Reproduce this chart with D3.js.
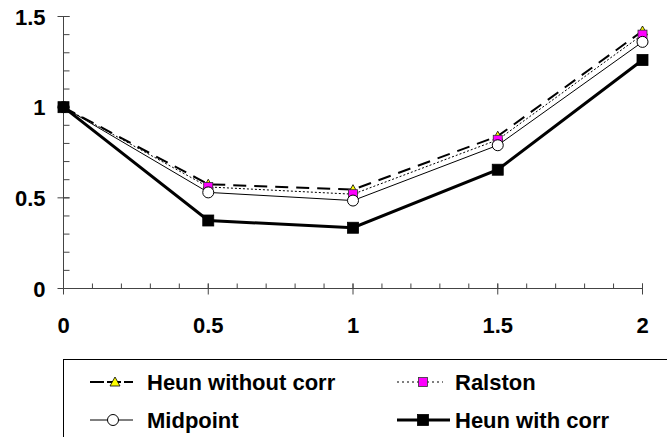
<!DOCTYPE html>
<html>
<head>
<meta charset="utf-8">
<script src="https://cdn.jsdelivr.net/npm/d3@7"></script>
<style>
  body { margin: 0; background: #fff; }
  text { font-family: "Liberation Sans", Arial, sans-serif; font-weight: bold; }
</style>
</head>
<body>
<div id="chart"></div>
<script>
// x values (step size h = 0.5)
const xValues = [0, 0.5, 1, 1.5, 2];
const heunWithoutCorr = [1, 0.575, 0.545, 0.84, 1.42];
const ralston = [1, 0.56, 0.52, 0.82, 1.40];
const midpoint = [1, 0.53, 0.485, 0.79, 1.36];
const heunWithCorr = [1, 0.375, 0.335, 0.655, 1.26];
const xTicks = [0, 0.5, 1, 1.5, 2];
const yTicks = [0, 0.5, 1, 1.5];

const width = 667, height = 437;
const margin = { top: 16.5, right: 24, bottom: 148.5, left: 63.5 };
const innerH = height - margin.top - margin.bottom;

const svg = d3.select('#chart').append('svg')
  .attr('width', width)
  .attr('height', height);

const g = svg.append('g')
  .attr('transform', `translate(${margin.left},${margin.top})`);

const x = d3.scaleLinear().domain([0, 2]).range([0, 579]);
const y = d3.scaleLinear().domain([0, 1.5]).range([innerH, 0]);

// Axes: major ticks cross the line, minor ticks on the inside
const axisColor = '#444';
g.append('line').attr('x1', 0).attr('x2', x(2)).attr('y1', y(0)).attr('y2', y(0))
  .attr('stroke', axisColor);
g.append('line').attr('x1', 0).attr('x2', 0).attr('y1', y(0)).attr('y2', y(1.5))
  .attr('stroke', axisColor);

const minorX = d3.range(0, 2.001, 0.1);
g.selectAll('.xminor').data(minorX).join('line')
  .attr('x1', d => x(d)).attr('x2', d => x(d))
  .attr('y1', y(0)).attr('y2', y(0) - 5)
  .attr('stroke', axisColor);
g.selectAll('.xmajor').data(xTicks).join('line')
  .attr('x1', d => x(d)).attr('x2', d => x(d))
  .attr('y1', y(0) - 5).attr('y2', y(0) + 6)
  .attr('stroke', axisColor);

const minorY = d3.range(0, 1.501, 0.1);
g.selectAll('.yminor').data(minorY).join('line')
  .attr('x1', 0).attr('x2', 6)
  .attr('y1', d => y(d)).attr('y2', d => y(d))
  .attr('stroke', axisColor);
g.selectAll('.ymajor').data(yTicks).join('line')
  .attr('x1', -6).attr('x2', 6)
  .attr('y1', d => y(d)).attr('y2', d => y(d))
  .attr('stroke', axisColor);

g.selectAll('.xlabel').data(xTicks).join('text')
  .attr('x', d => x(d)).attr('y', y(0) + 44)
  .attr('text-anchor', 'middle')
  .attr('font-size', 22)
  .text(d => d);

g.selectAll('.ylabel').data(yTicks).join('text')
  .attr('x', -18).attr('y', d => y(d) + 8)
  .attr('text-anchor', 'end')
  .attr('font-size', 22)
  .text(d => d);

// Series definitions
const series = [
  { name: 'Heun without corr', values: heunWithoutCorr, width: 2, dash: '13,8', marker: 'triangle', fill: '#ffff00' },
  { name: 'Ralston', values: ralston, width: 1, dash: '2,2', marker: 'square', fill: '#ff00ff', size: 9 },
  { name: 'Midpoint', values: midpoint, width: 1, dash: null, marker: 'circle', fill: '#ffffff' },
  { name: 'Heun with corr', values: heunWithCorr, width: 3, dash: null, marker: 'square', fill: '#000000', size: 11 }
];

const line = d3.line().x(d => x(d[0])).y(d => y(d[1]));

function drawMarker(sel, s) {
  if (s.marker === 'triangle') {
    sel.append('path')
      .attr('d', 'M0,-5L5,4L-5,4Z')
      .attr('fill', s.fill).attr('stroke', '#000').attr('stroke-width', 0.8);
  } else if (s.marker === 'square') {
    sel.append('rect')
      .attr('x', -s.size / 2).attr('y', -s.size / 2)
      .attr('width', s.size).attr('height', s.size)
      .attr('fill', s.fill).attr('stroke', s.fill === '#000000' ? '#000' : '#333').attr('stroke-width', 0.8);
  } else {
    sel.append('circle').attr('r', 5.5)
      .attr('fill', s.fill).attr('stroke', '#000').attr('stroke-width', 1);
  }
}

series.forEach(s => {
  const pts = xValues.map((xv, i) => [xv, s.values[i]]);
  g.append('path')
    .datum(pts)
    .attr('d', line)
    .attr('fill', 'none')
    .attr('stroke', '#000')
    .attr('stroke-width', s.width)
    .attr('stroke-dasharray', s.dash);
  pts.forEach(p => {
    const m = g.append('g').attr('transform', `translate(${x(p[0])},${y(p[1])})`);
    drawMarker(m, s);
  });
});

// Legend
const legend = svg.append('g');
legend.append('rect')
  .attr('x', 63.5).attr('y', 359.5)
  .attr('width', 700).attr('height', 200)
  .attr('fill', '#fff').attr('stroke', '#000').attr('stroke-width', 1);

const legendPos = [
  { x1: 90, x2: 133, mx: 115, tx: 147, y: 382, dash: '14,3' },
  { x1: 397, x2: 443, mx: 423, tx: 455, y: 382, dash: '2,3' },
  { x1: 90, x2: 133, mx: 113, tx: 147, y: 420, dash: null },
  { x1: 397, x2: 450, mx: 423, tx: 455, y: 420, dash: null }
];

series.forEach((s, i) => {
  const p = legendPos[i];
  legend.append('line')
    .attr('x1', p.x1).attr('x2', p.x2).attr('y1', p.y).attr('y2', p.y)
    .attr('stroke', '#000').attr('stroke-width', s.width)
    .attr('stroke-dasharray', p.dash);
  const m = legend.append('g').attr('transform', `translate(${p.mx},${p.y})`);
  drawMarker(m, s);
  legend.append('text')
    .attr('x', p.tx).attr('y', p.y + 8)
    .attr('font-size', 22)
    .text(s.name);
});
</script>
</body>
</html>
